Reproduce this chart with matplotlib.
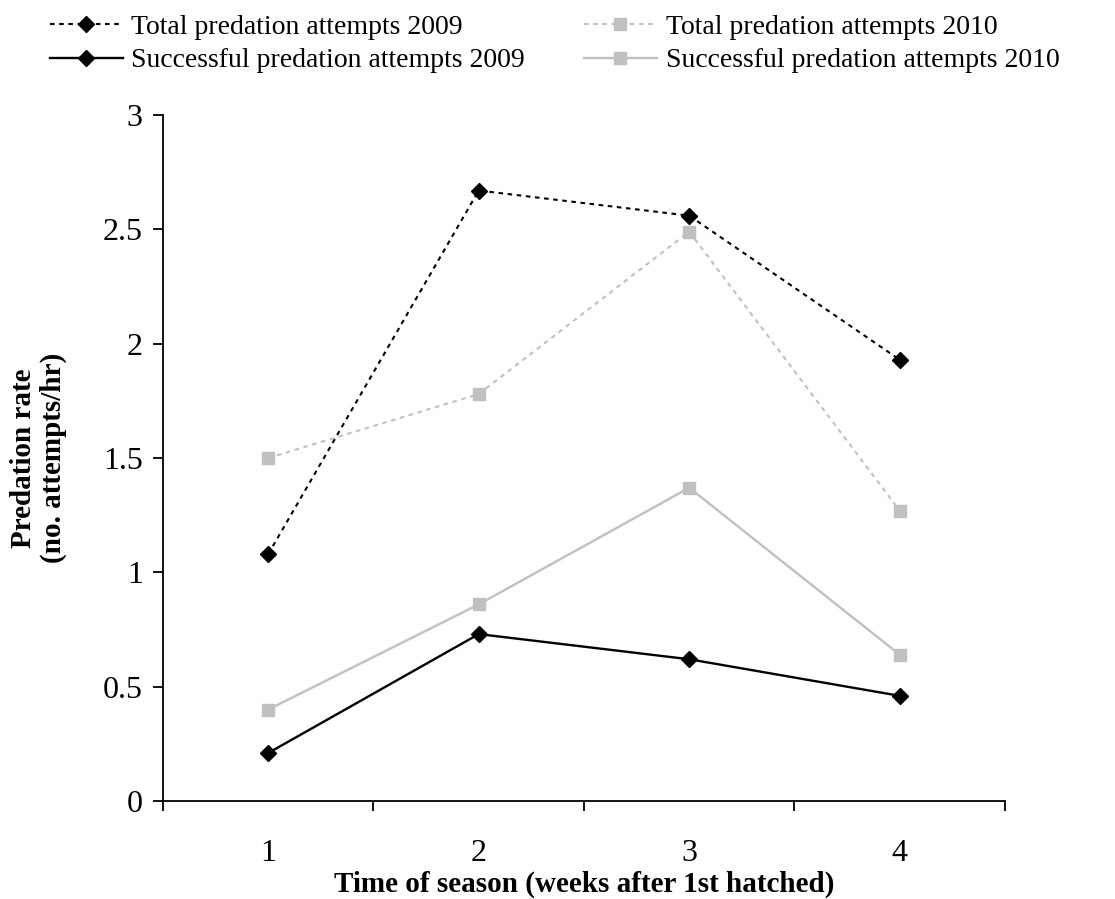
import numpy as np
import matplotlib
import matplotlib.pyplot as plt

matplotlib.use("Agg")

# Predation rates per week of the season (attempts per hour).
WEEKS = [1, 2, 3, 4]
TOTAL_2009 = [1.08, 2.67, 2.56, 1.93]
TOTAL_2010 = [1.50, 1.78, 2.49, 1.27]
SUCCESS_2009 = [0.21, 0.73, 0.62, 0.46]
SUCCESS_2010 = [0.40, 0.86, 1.37, 0.64]

GREY = "#c0c0c0"
DOTTED = (0, (2.2, 2.2))


def InitializeMatplotLib():
    matplotlib.rc("font", family=["Liberation Serif", "DejaVu Serif"], size=23)
    matplotlib.rc("axes", linewidth=1.3)
    matplotlib.rc("legend", fontsize=20)


def PlotRates():
    fig = plt.figure(figsize=(11.15, 8.99), dpi=100)
    ax = fig.add_axes([0.1462, 0.109, 0.9013 - 0.1462, 0.872 - 0.109])

    x = np.array(WEEKS)
    ax.plot(x, TOTAL_2009, color="black", linestyle=DOTTED, linewidth=1.5,
            marker="D", markersize=8, label="Total predation attempts 2009")
    ax.plot(x, SUCCESS_2009, color="black", linestyle="-", linewidth=1.7,
            marker="D", markersize=8, label="Successful predation attempts 2009")
    ax.plot(x, TOTAL_2010, color=GREY, linestyle=DOTTED, linewidth=1.5,
            marker="s", markersize=9, label="Total predation attempts 2010")
    ax.plot(x, SUCCESS_2010, color=GREY, linestyle="-", linewidth=1.7,
            marker="s", markersize=9, label="Successful predation attempts 2010")

    ax.set_xlim(0.5, 4.5)
    ax.set_ylim(0, 3)
    ax.set_yticks([0, 0.5, 1, 1.5, 2, 2.5, 3])
    ax.set_yticklabels(["0", "0.5", "1", "1.5", "2", "2.5", "3"])

    # boundary ticks between categories, labels sit in the middle
    ax.set_xticks(np.arange(0.5, 5.0, 1.0))
    ax.set_xticklabels([])
    ax.set_xticks(x, minor=True)
    ax.set_xticklabels([str(w) for w in WEEKS], minor=True)
    ax.tick_params(axis="x", which="major", direction="out", length=7.5, width=1.3)
    ax.tick_params(axis="x", which="minor", length=0, pad=27)
    ax.tick_params(axis="y", direction="out", length=7.5, width=1.3, pad=7)

    ax.spines["top"].set_visible(False)
    ax.spines["right"].set_visible(False)

    ax.set_xlabel("Time of season (weeks after 1st hatched)", fontweight="bold",
                  fontsize=21, labelpad=2)
    ax.set_ylabel("Predation rate\n(no. attempts/hr)", fontweight="bold",
                  fontsize=21, labelpad=26, linespacing=1.1)

    fig.legend(loc="upper left", bbox_to_anchor=(0.022, 1.012), ncol=2,
               frameon=False, handlelength=2.65, handletextpad=0.3,
               columnspacing=2.1, labelspacing=0.3)

    fig.savefig("out.png", dpi=100)


# Main.
if __name__ == "__main__":
    InitializeMatplotLib()
    PlotRates()
